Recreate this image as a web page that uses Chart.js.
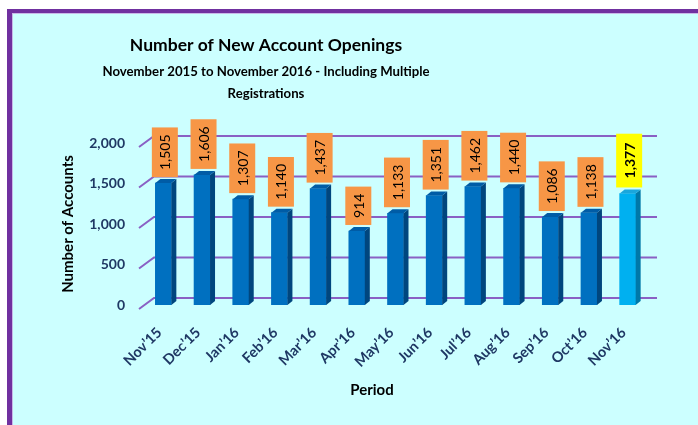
<!DOCTYPE html>
<html>
<head>
<meta charset="utf-8">
<script src="https://cdn.jsdelivr.net/npm/chart.js@4.4.1/dist/chart.umd.min.js"></script>
<style>
  html, body { margin: 0; padding: 0; background: #fff; }
  #frame {
    position: absolute; left: 7px; top: 9px; width: 720px; height: 440px;
    background: #CCFFFF;
    border-left: 5px solid #7030A0; border-top: 4px solid #7030A0;
    box-shadow: inset 1px 1px 0 #C8B8E8;
  }
  #chart { position: absolute; left: 0; top: 0; }
</style>
</head>
<body>
<div id="frame"></div>
<canvas id="chart" width="698" height="425"></canvas>
<script>
// Chart data
const periods = ["Nov’15", "Dec’15", "Jan’16", "Feb’16", "Mar’16", "Apr’16", "May’16",
                 "Jun’16", "Jul’16", "Aug’16", "Sep’16", "Oct’16", "Nov’16"];
const accounts = [1505, 1606, 1307, 1140, 1437, 914, 1133, 1351, 1462, 1440, 1086, 1138, 1377];
const yTicks = [0, 500, 1000, 1500, 2000];

const FONT = "Lato, 'DejaVu Sans', sans-serif";
const isLast = i => i === periods.length - 1;

// Back wall gridlines with the little diagonal at the left
const backGrid = {
    id: 'backGrid',
    beforeDatasetsDraw(chart) {
        const { ctx, chartArea, scales: { y } } = chart;
        ctx.save();
        ctx.strokeStyle = '#8A60C4';
        ctx.lineWidth = 2;
        yTicks.forEach(v => {
            const py = y.getPixelForValue(v);
            ctx.beginPath();
            ctx.moveTo(chartArea.left - 5, py + 4);
            ctx.lineTo(chartArea.left + 10, py - 7);
            ctx.lineTo(chartArea.right + 10, py - 7);
            ctx.stroke();
        });
        ctx.restore();
    }
};

// Fake 3D sides + value boxes
const bars3d = {
    id: 'bars3d',
    afterDatasetsDraw(chart) {
        const { ctx } = chart;
        const meta = chart.getDatasetMeta(0);
        const dx = 5, dy = 4;
        ctx.save();
        meta.data.forEach((bar, i) => {
            const { x, y, base, width } = bar.getProps(['x', 'y', 'base', 'width'], true);
            const l = x - width / 2, r = x + width / 2;
            // side
            ctx.fillStyle = isLast(i) ? '#0078A8' : '#00467E';
            ctx.beginPath();
            ctx.moveTo(r, y); ctx.lineTo(r + dx, y - dy); ctx.lineTo(r + dx, base - dy); ctx.lineTo(r, base);
            ctx.closePath(); ctx.fill();
            // top
            ctx.fillStyle = isLast(i) ? '#1AA6DC' : '#005CA6';
            ctx.beginPath();
            ctx.moveTo(l, y); ctx.lineTo(l + dx, y - dy); ctx.lineTo(r + dx, y - dy); ctx.lineTo(r, y);
            ctx.closePath(); ctx.fill();

            // value label box
            const txt = accounts[i].toLocaleString('en-US');
            ctx.font = (isLast(i) ? 'bold ' : '') + '14px ' + FONT;
            const tw = ctx.measureText(txt).width;
            const pad = isLast(i) ? 9 : 7;
            const h = tw + pad * 2, w = 26;
            const cx = x + 1.5, bottom = y - 6;
            ctx.fillStyle = isLast(i) ? '#FFFF00' : '#F79646';
            ctx.fillRect(cx - w / 2, bottom - h, w, h);
            ctx.save();
            ctx.translate(cx, bottom - h / 2);
            ctx.rotate(-Math.PI / 2);
            ctx.fillStyle = '#000';
            ctx.textAlign = 'center';
            ctx.textBaseline = 'middle';
            ctx.fillText(txt, 0, 1);
            ctx.restore();
        });
        ctx.restore();
    }
};

// Titles placed like the source sheet
const titles = {
    id: 'titles',
    afterDraw(chart) {
        const { ctx } = chart;
        ctx.save();
        ctx.fillStyle = '#000';
        ctx.textAlign = 'center';
        ctx.textBaseline = 'middle';
        ctx.font = 'bold 17.5px ' + FONT;
        ctx.fillText('Number of New Account Openings', 266, 45);
        ctx.font = 'bold 13.2px ' + FONT;
        ctx.fillText('November 2015 to November 2016 - Including Multiple', 266, 72);
        ctx.fillText('Registrations', 266, 94);
        ctx.font = 'bold 15px ' + FONT;
        ctx.fillText('Period', 372, 390);
        ctx.translate(68, 224);
        ctx.rotate(-Math.PI / 2);
        ctx.fillText('Number of Accounts', 0, 0);
        ctx.restore();
    }
};

new Chart(document.getElementById('chart'), {
    type: 'bar',
    data: {
        labels: periods,
        datasets: [{
            data: accounts,
            backgroundColor: ctx => isLast(ctx.dataIndex) ? '#00B0F0' : '#0070C0',
            borderWidth: 0,
            barThickness: 16
        }]
    },
    options: {
        responsive: false,
        animation: false,
        devicePixelRatio: 1,
        layout: { padding: { top: 143, right: 51, left: 0, bottom: 0 } },
        plugins: { legend: { display: false }, tooltip: { enabled: false } },
        scales: {
            x: {
                grid: { display: false },
                border: { display: false },
                ticks: {
                    autoSkip: false, minRotation: 45, maxRotation: 45, padding: 11, labelOffset: -4,
                    color: '#1F3864', font: { family: FONT, size: 14.5, weight: 'bold' }
                },
                afterFit: s => { s.height = 120; }
            },
            y: {
                min: 0, max: 2000,
                afterBuildTicks: s => { s.ticks = yTicks.map(v => ({ value: v })); },
                grid: { display: false, drawTicks: false },
                border: { display: false },
                ticks: {
                    padding: 19,
                    color: '#1F3864', font: { family: FONT, size: 14, weight: 'bold' },
                    callback: v => v.toLocaleString('en-US')
                },
                afterFit: s => { s.width = 144; }
            }
        }
    },
    plugins: [backGrid, bars3d, titles]
});
</script>
</body>
</html>
